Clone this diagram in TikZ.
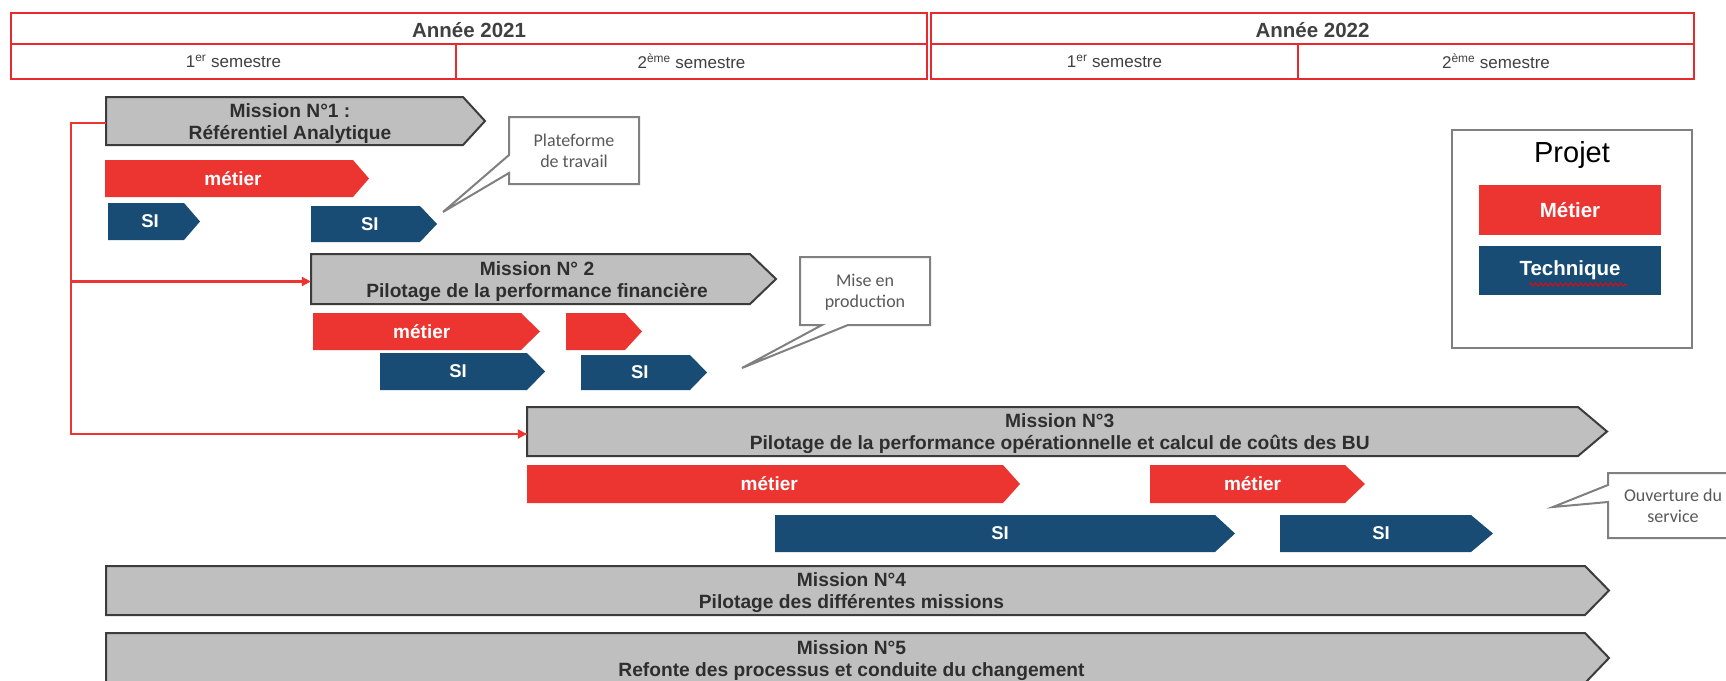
\documentclass[tikz,border=0pt]{standalone}
\usepackage{fontspec}
\setmainfont{Liberation Sans}
\newfontfamily\calib{Carlito}
\usetikzlibrary{arrows.meta,decorations.pathmorphing}
\definecolor{hdrred}{HTML}{E62A2D}
\definecolor{barred}{HTML}{EC3431}
\definecolor{navy}{HTML}{184C74}
\definecolor{mgrey}{HTML}{BFBFBF}
\definecolor{mborder}{HTML}{3C3C3C}
\definecolor{txtgrey}{HTML}{404040}
\definecolor{callgrey}{HTML}{808080}
\definecolor{calltxt}{HTML}{595959}
\tikzset{
  mission/.style={fill=mgrey, draw=mborder, line width=2pt, line join=miter},
  metierbar/.style={fill=barred},
  sibar/.style={fill=navy},
  missiontext/.style={inner sep=0pt, align=center, text=black!82, yshift=-2.5pt, font=\fontsize{19.2}{22}\selectfont\bfseries},
  bartext/.style={inner sep=0pt, text=white, font=\fontsize{19}{22}\selectfont\bfseries},
  sitext/.style={inner sep=0pt, text=white, font=\fontsize{18.5}{22}\selectfont\bfseries},
  hdrcell/.style={draw=hdrred, line width=2.7pt, inner sep=0pt},
  yeartext/.style={text=txtgrey, font=\fontsize{20.5}{22}\selectfont\bfseries},
  semtext/.style={text=txtgrey, font=\fontsize{17}{19}\selectfont},
  callout/.style={fill=white, draw=callgrey, line width=2pt, line join=miter},
  calltext/.style={inner sep=0pt, text=calltxt, align=center, font=\calib\fontsize{18}{21}\selectfont},
  link/.style={draw=barred, line width=2.5pt},
  legbox/.style={inner sep=0pt, text=white, font=\fontsize{20.5}{24}\selectfont\bfseries},
}
% #1 name, #2 shape style, #3 x left, #4 x body end, #5 x tip, #6 y top, #7 y bottom, #8 text style, #9 text
\newcommand\chevbar[9]{%
  \path[#2] (#3,#6) -- (#4,#6) -- (#5,{(#6+#7)/2}) -- (#4,#7) -- (#3,#7) -- cycle;
  \node[#8, minimum width={(#4+#5)/2-#3}, minimum height={#7-#6}] (#1) at ({(#3+(#4+#5)/2)/2},{(#6+#7)/2}) {#9};
}
\begin{document}
\begin{tikzpicture}[x=1pt,y=-1pt]
\useasboundingbox (0,0) rectangle (1726,680);
\clip (0,0) rectangle (1726,680);
\fill[white] (0,0) rectangle (1726,680);

% header
\node[hdrcell, minimum width=916, minimum height=31] (y21) at (469,28.5) {};
\node[hdrcell, minimum width=763, minimum height=31] (y22) at (1312.5,28.5) {};
\node[yeartext] (t21) at ([yshift=-2pt]y21.center) {Année 2021};
\node[yeartext] (t22) at ([yshift=-2pt]y22.center) {Année 2022};
\node[hdrcell, semtext, minimum width=445, minimum height=35] (s1) at (233.5,61.5) {1\textsuperscript{er} semestre};
\node[hdrcell, semtext, minimum width=471, minimum height=35] (s2) at (691.5,61.5) {2\textsuperscript{ème} semestre};
\node[hdrcell, semtext, minimum width=367, minimum height=35] (s3) at (1114.5,61.5) {1\textsuperscript{er} semestre};
\node[hdrcell, semtext, minimum width=396, minimum height=35] (s4) at (1496,61.5) {2\textsuperscript{ème} semestre};

% missions
\chevbar{m1}{mission}{106}{463}{485}{97}{145}{missiontext}{Mission N°1 :\\Référentiel Analytique}
\chevbar{m2}{mission}{311}{750}{776}{254}{304}{missiontext}{Mission N° 2\\Pilotage de la performance financière}
\chevbar{m3}{mission}{527}{1578}{1607}{407}{456}{missiontext}{Mission N°3\\Pilotage de la performance opérationnelle et calcul de coûts des BU}
\chevbar{m4}{mission}{106}{1585}{1609}{566}{615}{missiontext}{Mission N°4\\Pilotage des différentes missions}
\chevbar{m5}{mission}{106}{1585}{1609}{633}{683}{missiontext}{Mission N°5\\Refonte des processus et conduite du changement}

% bars
\chevbar{b1m}{metierbar}{105}{353}{369}{160}{197}{bartext}{métier}
\chevbar{b1s}{sibar}{108}{184}{200}{203}{240}{sitext}{SI}
\chevbar{b1t}{sibar}{311}{420}{437}{206}{242}{sitext}{SI}
\chevbar{b2m}{metierbar}{313}{521}{540}{313}{350}{bartext}{métier}
\chevbar{b2n}{metierbar}{566}{625}{642}{313}{350}{bartext}{}
\chevbar{b2s}{sibar}{380}{527}{545}{353}{390}{sitext}{SI}
\chevbar{b2t}{sibar}{581}{690}{707}{355}{390}{sitext}{SI}
\chevbar{b3m}{metierbar}{527}{1003}{1020}{465}{503}{bartext}{métier}
\chevbar{b3n}{metierbar}{1150}{1345}{1365}{465}{503}{bartext}{métier}
\chevbar{b3s}{sibar}{775}{1215}{1235}{515}{552}{sitext}{SI}
\chevbar{b3t}{sibar}{1280}{1471}{1493}{515}{552}{sitext}{SI}

% red links
\coordinate (vtop) at (71,123);
\draw[link] (vtop -| m1.west) -- (vtop) -- (vtop |- m3.west) -- (m3.west);
\draw[link, -{Triangle[length=9pt,width=9pt]}] (vtop |- m3.west) -- (m3.west);
\draw[link, -{Triangle[length=9pt,width=9pt]}] (vtop |- m2.west) -- (m2.west);

% callouts
\draw[callout] (509,117) -- (639,117) -- (639,184) -- (509,184) -- (509,173) -- (443,212) -- (509,155) -- cycle;
\node[calltext] (c1) at (574,151) {Plateforme\\de travail};
\draw[callout] (800,257) -- (930,257) -- (930,325) -- (848,325) -- (742,368) -- (822,325) -- (800,325) -- cycle;
\node[calltext] (c2) at (865,292) {Mise en\\production};
\draw[callout] (1608,473) -- (1745,473) -- (1745,538) -- (1608,538) -- (1608,502) -- (1553,507) -- (1608,485) -- cycle;
\node[calltext] (c3) at (1673,506) {Ouverture du\\service};

% legend
\node[draw=callgrey, line width=1.5pt, minimum width=240, minimum height=218, inner sep=0pt] (leg) at (1572,239) {};
\node[inner sep=0pt, font=\fontsize{29}{32}\selectfont] (proj) at (1572,155) {Projet};
\node[legbox, fill=barred, minimum width=182, minimum height=50] (lm) at (1570,210) {Métier};
\node[legbox, fill=navy, minimum width=182, minimum height=49] (lt) at (1570,270.5) {Technique};
\draw[red, line width=0.9pt, decorate, decoration={snake, amplitude=1.6pt, segment length=5pt}] (1529,284.5) -- (1627,284.5);
\end{tikzpicture}
\end{document}
